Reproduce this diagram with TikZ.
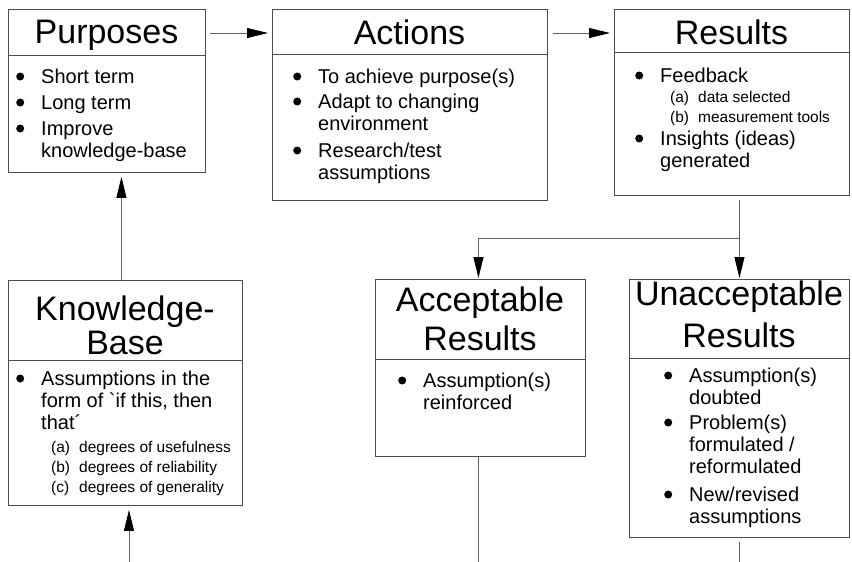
\documentclass[tikz,border=0pt]{standalone}
\usepackage{fontspec}
\setmainfont{Liberation Sans}
\usetikzlibrary{arrows.meta}
\newcommand{\bul}{\makebox[21pt][l]{\hspace{-4pt}\tikz[baseline=0pt]\fill[black] (4pt,6.5pt) circle (4pt);}}
\newcommand{\subit}[2]{{\fontsize{15.5}{18}\selectfont\hspace{10pt}\makebox[28pt][l]{#1}#2}}
\begin{document}
\begin{tikzpicture}[x=1pt,y=-1pt,
  box/.style={draw=black!70, line width=0.9pt, inner sep=0pt, anchor=north west},
  ttl/.style={inner sep=0pt, anchor=base, font=\fontsize{34}{38}\selectfont},
  bdy/.style={inner sep=0pt, anchor=base west, font=\fontsize{20}{22}\selectfont},
  sepl/.style={draw=black!70, line width=0.9pt},
  con/.style={draw=black!62, line width=0.9pt},
  arr/.style={con, -{Triangle[length=21pt,width=10pt,color=black]}}]
\useasboundingbox (0,0) rectangle (852,562);

% boxes
\node[box, minimum width=197pt, minimum height=163pt] (pur) at (8,9) {};
\node[box, minimum width=275pt, minimum height=191pt] (act) at (272,9) {};
\node[box, minimum width=235pt, minimum height=186pt] (res) at (614,9) {};
\node[box, minimum width=234pt, minimum height=225pt] (kb) at (8,280) {};
\node[box, minimum width=210pt, minimum height=177pt] (acc) at (375,279) {};
\node[box, minimum width=220pt, minimum height=258pt] (unacc) at (629,279) {};

% separators
\draw[sepl] ([yshift=-46pt]pur.north west) -- ([yshift=-46pt]pur.north east);
\draw[sepl] ([yshift=-45pt]act.north west) -- ([yshift=-45pt]act.north east);
\draw[sepl] ([yshift=-43pt]res.north west) -- ([yshift=-43pt]res.north east);
\draw[sepl] ([yshift=-80pt]kb.north west) -- ([yshift=-80pt]kb.north east);
\draw[sepl] ([yshift=-80pt]acc.north west) -- ([yshift=-80pt]acc.north east);
\draw[sepl] ([yshift=-79pt]unacc.north west) -- ([yshift=-79pt]unacc.north east);

% titles
\node[ttl] (purT) at (106.5,43) {Purposes};
\node[ttl] (actT) at (409.5,45) {Actions};
\node[ttl] (resT) at (731.5,45) {Results};
\node[ttl] (kbT) at (125,320) {\begin{tabular}[t]{@{}c@{}}Knowledge-\\[-4pt]Base\end{tabular}};
\node[ttl] (accT) at (480,311) {\begin{tabular}[t]{@{}c@{}}Acceptable\\[1pt]Results\end{tabular}};
\node[ttl] (unaccT) at (739,305) {\begin{tabular}[t]{@{}c@{}}Unacceptable\\[4pt]Results\end{tabular}};

% bodies
\node[bdy] (purB) at (20,83) {\begin{tabular}[t]{@{}l@{}l@{}}
\bul & Short term\\[4pt]
\bul & Long term\\[4pt]
\bul & Improve\\
 & knowledge-base
\end{tabular}};
\node[bdy] (actB) at (297,83) {\begin{tabular}[t]{@{}l@{}l@{}}
\bul & To achieve purpose(s)\\[3pt]
\bul & Adapt to changing\\
 & environment\\[5pt]
\bul & Research/test\\
 & assumptions
\end{tabular}};
\node[bdy] (resB) at (639,82) {\begin{tabular}[t]{@{}l@{}l@{}}
\bul & Feedback\\[-2pt]
 & \subit{(a)}{data selected}\\[-2pt]
 & \subit{(b)}{measurement tools}\\[1pt]
\bul & Insights (ideas)\\
 & generated
\end{tabular}};
\node[bdy] (kbB) at (20,385) {\begin{tabular}[t]{@{}l@{}l@{}}
\bul & Assumptions in the\\
 & form of \textasciigrave if this, then\\
 & that\symbol{"00B4}\\[1pt]
 & \subit{(a)}{degrees of usefulness}\\[-2pt]
 & \subit{(b)}{degrees of reliability}\\[-2pt]
 & \subit{(c)}{degrees of generality}
\end{tabular}};
\node[bdy] (accB) at (402,387) {\begin{tabular}[t]{@{}l@{}l@{}}
\bul & Assumption(s)\\
 & reinforced
\end{tabular}};
\node[bdy] (unaccB) at (668,382) {\begin{tabular}[t]{@{}l@{}l@{}}
\bul & Assumption(s)\\
 & doubted\\[3pt]
\bul & Problem(s)\\
 & formulated /\\
 & reformulated\\[6pt]
\bul & New/revised\\
 & assumptions
\end{tabular}};

% connectors
\draw[arr, shorten <=4pt, shorten >=4pt] ([yshift=-24pt]pur.north east) -- ([yshift=-24pt]act.north west);
\draw[arr, shorten <=5pt, shorten >=4pt] ([yshift=-24pt]act.north east) -- ([yshift=-24pt]res.north west);
\coordinate (k1) at ([xshift=-4pt]kb.north);
\draw[arr, shorten >=4pt] (k1) -- (k1 |- pur.south);
\coordinate (kin) at (129,562);
\draw[arr, shorten >=4pt] (kin) -- (kin |- kb.south);
\coordinate (split) at ([yshift=41pt]unacc.north);
\draw[con, shorten <=4pt] (split |- res.south) -- (split);
\draw[arr, shorten >=1pt] (split) -- (unacc.north);
\coordinate (a1) at ([xshift=-2pt]acc.north);
\draw[arr, shorten >=1pt] (split) -| (a1);
\coordinate (bot) at (0,562);
\coordinate (a2) at ([xshift=-2pt]acc.south);
\draw[con] (a2) -- (a2 |- bot);
\draw[con, shorten <=4pt] (unacc.south) -- (unacc.south |- bot);
\end{tikzpicture}
\end{document}
